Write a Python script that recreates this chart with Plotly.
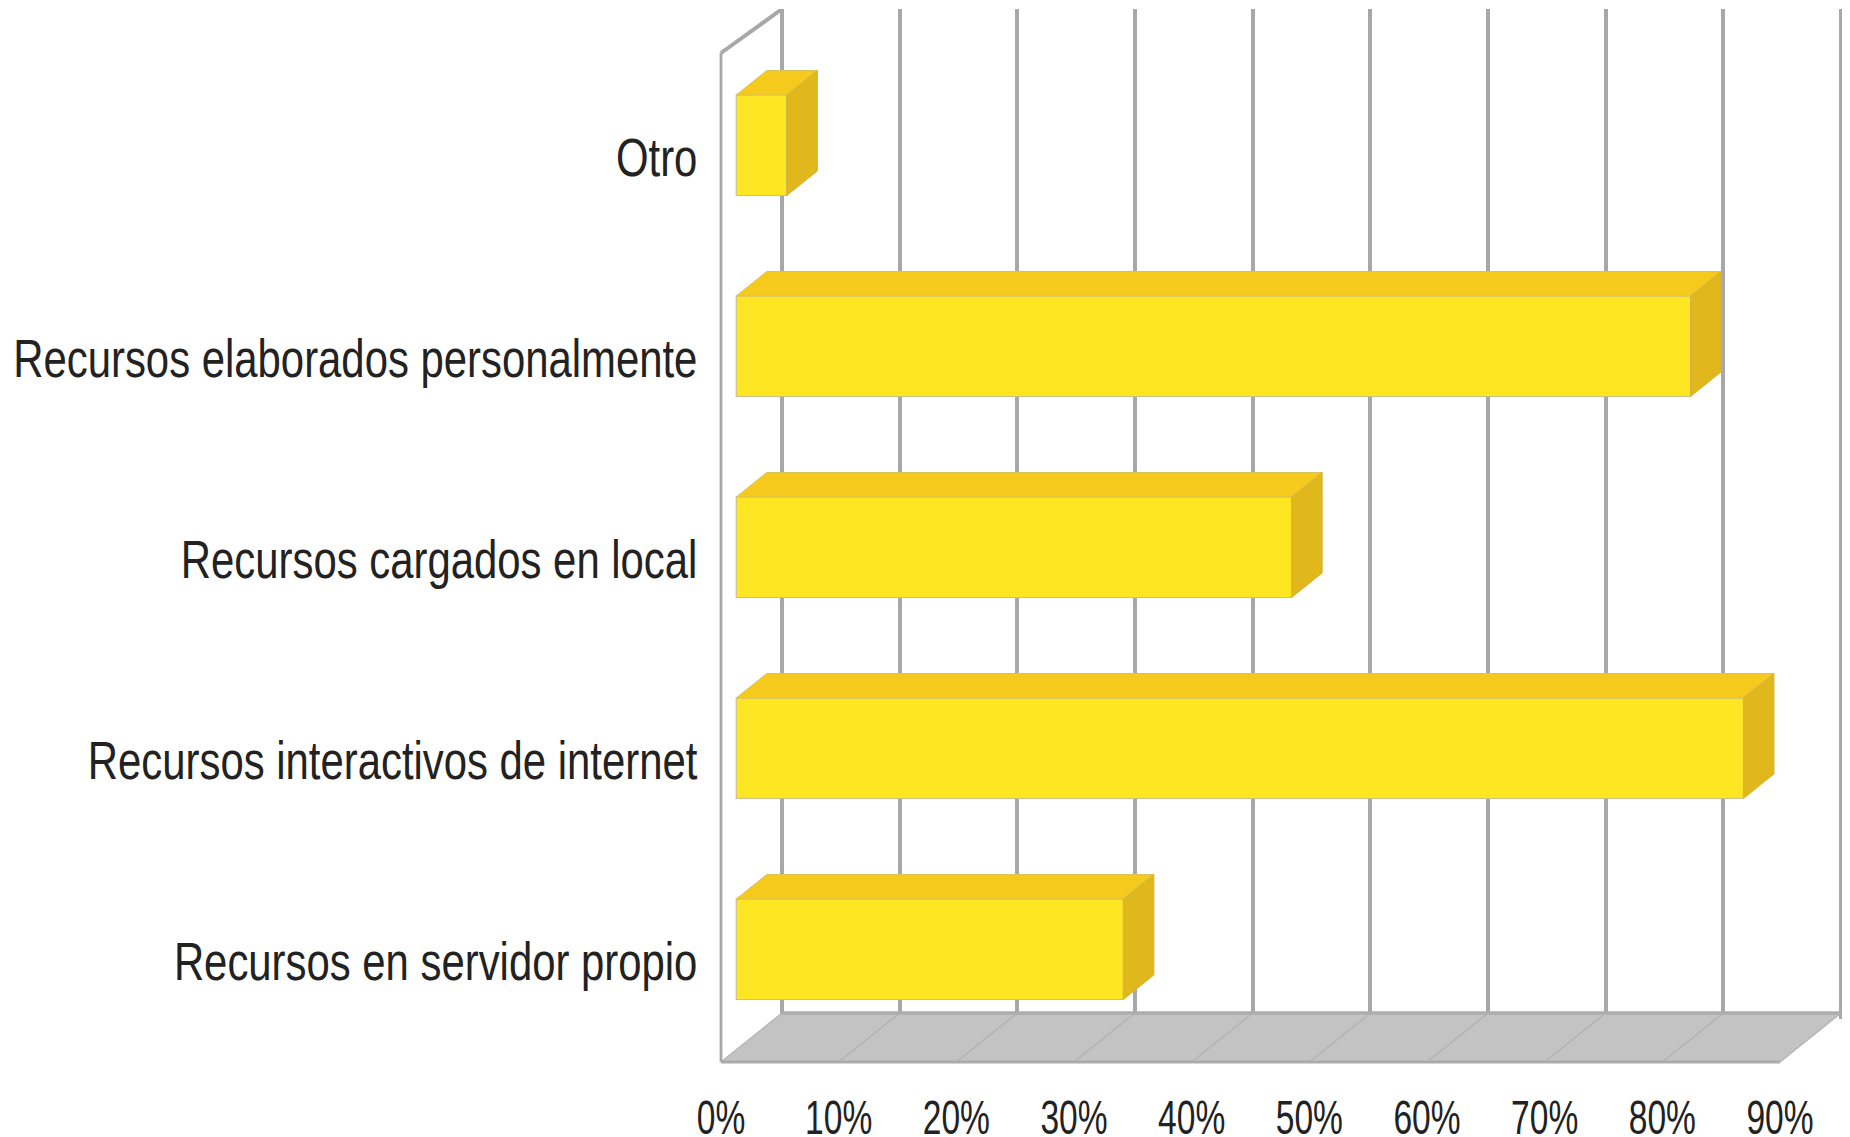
import plotly.graph_objects as go

categories = ["Recursos en servidor propio", "Recursos interactivos de internet",
              "Recursos cargados en local", "Recursos elaborados personalmente", "Otro"]
values = [32.9, 85.6, 47.2, 81.1, 4.3]
x_ticks = [0, 10, 20, 30, 40, 50, 60, 70, 80, 90]
x_tick_labels = ["0%", "10%", "20%", "30%", "40%", "50%", "60%", "70%", "80%", "90%"]

ORIGIN = 8  # the page's own body margin
W, H = 1850 - ORIGIN, 1137 - ORIGIN
FRONT_L, FRONT_R, FRONT_B = 721 - ORIGIN, 1780 - ORIGIN, 1062 - ORIGIN
PX_PER_CATEGORY = 201
WALL_FRONT_TOP = 53 - ORIGIN
DEPTH_X_PX, DEPTH_Y_PX = 61, 49
BACK_TOP_PX = 9 - ORIGIN
PAD = 6
BAR_D0, BAR_D1 = 0.25, 0.75
BAR_H = 0.5
X_SQUEEZE = 0.70
Y_SQUEEZE = 0.79

px_per_x = (FRONT_R - FRONT_L) / (x_ticks[-1] - x_ticks[0])
px_per_y = PX_PER_CATEGORY
DX = DEPTH_X_PX / px_per_x
DY = DEPTH_Y_PX / px_per_y
Y_MIN = -0.5
WALL_TOP = Y_MIN + (FRONT_B - WALL_FRONT_TOP) / px_per_y
PLOT_TOP = Y_MIN + (FRONT_B - BACK_TOP_PX) / px_per_y
GRID = "#A8A8A8"
FONT = "Liberation Sans, Arial, sans-serif"


def proj(v, i, d):
    return v + d * DX, i + d * DY


def polys(list_of_pts):
    xs, ys = [], []
    for pts in list_of_pts:
        for p in pts + [pts[0]]:
            xs.append(p[0]); ys.append(p[1])
        xs.append(None); ys.append(None)
    return xs, ys


def segs(list_of_pairs):
    xs, ys = [], []
    for a, b in list_of_pairs:
        xs += [a[0], b[0], None]; ys += [a[1], b[1], None]
    return xs, ys


FRONT = dict(xaxis="x2", yaxis="y2", hoverinfo="skip")
fig = go.Figure()

# back wall: the grid belongs to this lower subplot, so everything else sits above it
fig.add_trace(go.Scatter(x=[x_ticks[0], x_ticks[0]], y=[0, 1], mode="lines",
                         line=dict(width=4, color=GRID), hoverinfo="skip"))

# floor
fx, fy = polys([[proj(x_ticks[0], Y_MIN, 0), proj(x_ticks[0], Y_MIN, 1),
                 proj(x_ticks[-1], Y_MIN, 1), proj(x_ticks[-1], Y_MIN, 0)]])
fig.add_trace(go.Scatter(x=fx, y=fy, mode="lines", fill="toself", fillcolor="#C3C3C3",
                         line=dict(width=0, color="#C3C3C3"), **FRONT))
# floor division lines
dx_, dy_ = segs([(proj(t, Y_MIN, 0), proj(t, Y_MIN, 1)) for t in x_ticks])
fig.add_trace(go.Scatter(x=dx_, y=dy_, mode="lines", line=dict(width=1.3, color="#B2B2B2"), **FRONT))
# front and back floor edges
fig.add_trace(go.Scatter(x=[x_ticks[0], x_ticks[-1]], y=[Y_MIN, Y_MIN], mode="lines",
                         line=dict(width=3, color="#ABABAB"), **FRONT))
bx, by = segs([(proj(x_ticks[0], Y_MIN, 1), proj(x_ticks[-1], Y_MIN, 1))])
fig.add_trace(go.Scatter(x=bx, y=by, mode="lines", line=dict(width=3.5, color="#ADADAD"), **FRONT))
# left wall outline
fig.add_trace(go.Scatter(x=[x_ticks[0], x_ticks[0]], y=[Y_MIN, WALL_TOP], mode="lines",
                         line=dict(width=2.8, color=GRID), **FRONT))
fig.add_trace(go.Scatter(x=[x_ticks[0], x_ticks[0] + DX], y=[WALL_TOP, PLOT_TOP], mode="lines",
                         line=dict(width=4, color=GRID), **FRONT))

# bar front faces
ys = list(range(len(categories)))
fig.add_trace(go.Bar(orientation="h", x=values, y=[i + BAR_D0 * DY for i in ys],
                     base=BAR_D0 * DX, width=BAR_H, xaxis="x2", yaxis="y2",
                     marker=dict(color="#FFE622", line=dict(color="#C9C08A", width=1.2)),
                     hovertext=categories, hoverinfo="text+x"))

# bar top and side faces
h = BAR_H / 2
top_faces = [[proj(v, i + h, BAR_D0), proj(v, i + h, BAR_D1), proj(0, i + h, BAR_D1), proj(0, i + h, BAR_D0)]
             for i, v in zip(ys, values)]
side_faces = [[proj(v, i - h, BAR_D0), proj(v, i + h, BAR_D0), proj(v, i + h, BAR_D1), proj(v, i - h, BAR_D1)]
              for i, v in zip(ys, values)]
tx, ty = polys(top_faces)
fig.add_trace(go.Scatter(x=tx, y=ty, mode="lines", fill="toself", fillcolor="#F5CA1C",
                         line=dict(width=1, color="#D8C25A"), **FRONT))
sx, sy = polys(side_faces)
fig.add_trace(go.Scatter(x=sx, y=sy, mode="lines", fill="toself", fillcolor="#E0B81B",
                         line=dict(width=1, color="#D2B544"), **FRONT))

pad_x = PAD / px_per_x
pad_y = PAD / px_per_y
x_font = dict(family=FONT, size=48, color="#222222")
y_font = dict(family=FONT, size=53, color="#222222")
fig.update_layout(
    width=W, height=H, autosize=False, showlegend=False,
    margin=dict(l=0, r=0, t=0, b=0, autoexpand=False),
    paper_bgcolor="white", plot_bgcolor="rgba(0,0,0,0)",
    bargap=0.5,
    # back wall
    xaxis=dict(domain=[(FRONT_L + DEPTH_X_PX - PAD) / W, (FRONT_R + DEPTH_X_PX + PAD) / W],
               range=[x_ticks[0] - pad_x, x_ticks[-1] + pad_x], anchor="y",
               tickvals=x_ticks, showticklabels=False, ticks="", showgrid=True,
               gridcolor=GRID, gridwidth=4, zeroline=False, showline=False, automargin=False),
    yaxis=dict(domain=[1 - (FRONT_B - DEPTH_Y_PX + PAD) / H, 1 - BACK_TOP_PX / H],
               range=[0, 1], anchor="x",
               showticklabels=False, ticks="", showgrid=False, zeroline=False, showline=False,
               automargin=False),
    # front plane, carrying the labels and all the marks
    xaxis2=dict(domain=[(FRONT_L - PAD) / W, (FRONT_R + DEPTH_X_PX + PAD) / W],
                range=[x_ticks[0] - pad_x, x_ticks[-1] + DX + pad_x],
                tickvals=x_ticks, ticktext=x_tick_labels, showgrid=False, zeroline=False,
                ticks="outside", ticklen=7, tickcolor="rgba(0,0,0,0)", tickfont=x_font, showline=False,
                anchor="y2", automargin=False),
    yaxis2=dict(domain=[1 - (FRONT_B + PAD) / H, 1 - BACK_TOP_PX / H],
                range=[Y_MIN - pad_y, PLOT_TOP],
                tickvals=ys, ticktext=categories, showgrid=False, zeroline=False,
                ticks="outside", ticklen=6, tickcolor="rgba(0,0,0,0)", tickfont=y_font, showline=False,
                anchor="x2", automargin=False),
)

squeeze_js = """
var gd = document.getElementById('{plot_id}');
function squeezeAxis(selector, s) {
  gd.querySelectorAll(selector).forEach(function (el) {
    var t = el.getAttribute('transform') || '';
    if (t.indexOf('scale(') >= 0) return;
    var x = el.getAttribute('x') || 0, y = el.getAttribute('y') || 0;
    el.setAttribute('transform', t + ' translate(' + x + ',' + y + ') scale(' + s + ',1) translate(' + (-x) + ',' + (-y) + ')');
  });
}
function squeeze() {
  squeezeAxis('.x2tick text', XS);
  squeezeAxis('.y2tick text', YS);
}
squeeze();
gd.on('plotly_afterplot', squeeze);
""".replace("XS", str(X_SQUEEZE)).replace("YS", str(Y_SQUEEZE))

fig.write_html("out.html", post_script=squeeze_js)
